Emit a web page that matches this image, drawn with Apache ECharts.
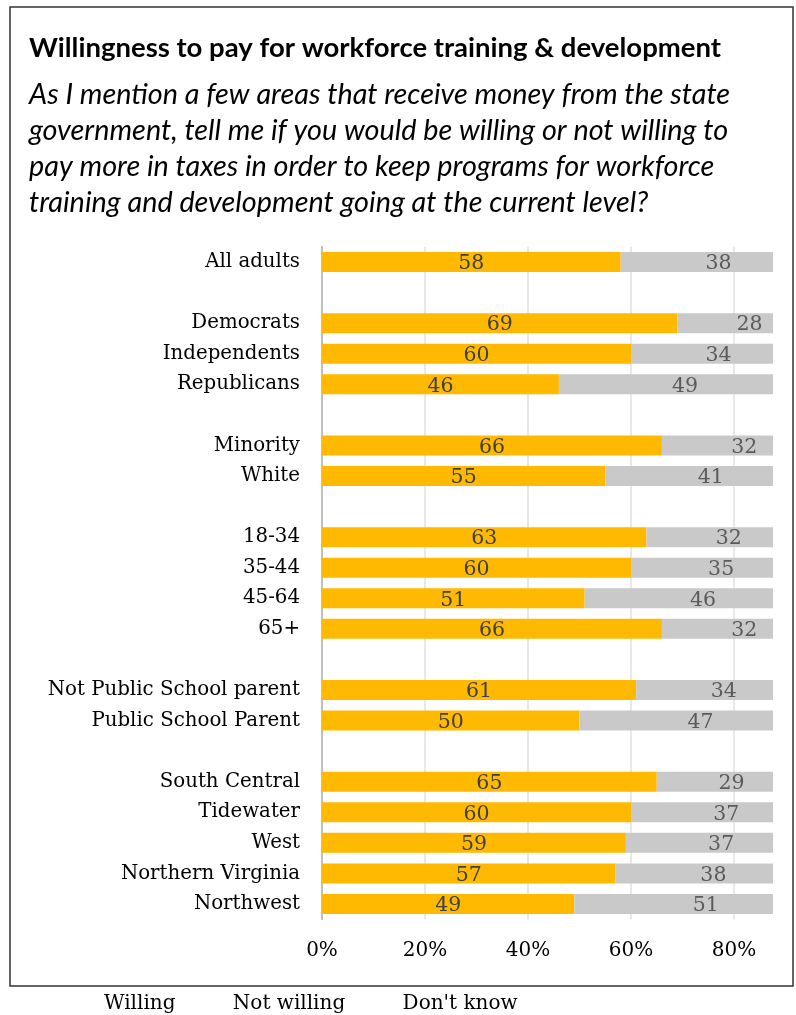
<!DOCTYPE html>
<html><head><meta charset="utf-8">
<script src="https://cdn.jsdelivr.net/npm/echarts@6/dist/echarts.min.js"></script>
<style>html,body{margin:0;padding:0;background:#fff}#c{width:796px;height:1015px}</style>
</head><body><div id="c"></div>
<script>
const titleText = 'Willingness to pay for workforce training & development';
const subtitleText = 'As I mention a few areas that receive money from the state\ngovernment, tell me if you would be willing or not willing to\npay more in taxes in order to keep programs for workforce\ntraining and development going at the current level?';
const categories = ['All adults',' ','Democrats','Independents','Republicans','  ','Minority','White','   ','18-34','35-44','45-64','65+','    ','Not Public School parent','Public School Parent','     ','South Central','Tidewater','West','Northern Virginia','Northwest'];
const willing    = [58,null,69,60,46,null,66,55,null,63,60,51,66,null,61,50,null,65,60,59,57,49];
const notWilling = [38,null,28,34,49,null,32,41,null,32,35,46,32,null,34,47,null,29,37,37,38,51];
const dontKnow   = [];
const seriesNames = ['Willing','Not willing',"Don't know"];
const xTicks = [0,20,40,60,80];

const serif = 'DejaVu Serif';
const notWillingLabelPts = [];
categories.forEach((c,i)=>{
  if (willing[i]!=null && notWilling[i]!=null) notWillingLabelPts.push([willing[i]+notWilling[i]/2, i, notWilling[i]]);
});

const chart = echarts.init(document.getElementById('c'));
chart.setOption({
  animation:false,
  backgroundColor:'#fff',
  graphic:[{type:'rect',shape:{x:10,y:7,width:783,height:979},style:{fill:'none',stroke:'#333',lineWidth:1.5},z:-1}],
  title:[
    {text:titleText,left:24,top:26,textStyle:{fontFamily:'Lato',fontWeight:'bold',fontSize:27.5,lineHeight:34,color:'#000'}},
    {text:subtitleText,left:24,top:72,textStyle:{fontFamily:'Lato',fontStyle:'italic',fontWeight:'normal',fontSize:28.8,lineHeight:36,color:'#000'}}
  ],
  legend:{data:seriesNames,left:94,top:989,itemWidth:0,itemHeight:0,itemGap:52.4,icon:'rect',
    textStyle:{fontFamily:serif,fontSize:20,color:'#000'}},
  grid:{left:322,right:23,top:246.7,bottom:95.7,containLabel:false},
  xAxis:{type:'value',min:0,max:87.57,interval:20,
    axisLine:{show:false},axisTick:{show:false},
    splitLine:{show:true,showMaxLine:false,showMinLine:false,lineStyle:{color:'#e0e0e0',width:1.5}},
    axisLabel:{showMaxLabel:false,margin:21,fontFamily:serif,fontSize:20,color:'#000',
      formatter:v=> xTicks.includes(v)? v+'%' : ''}},
  yAxis:{type:'category',inverse:true,data:categories,
    axisLine:{show:true,lineStyle:{color:'#bfbfbf',width:2}},axisTick:{show:false},
    axisLabel:{margin:22,padding:[4,0,0,0],fontFamily:serif,fontSize:19.8,color:'#000'}},
  series:[
    {name:'Willing',type:'bar',stack:'t',data:willing,barWidth:20,itemStyle:{color:'#ffb900'},
      label:{show:true,position:'inside',offset:[0,2],fontFamily:serif,fontSize:20.5,color:'#404040'}},
    {name:'Not willing',type:'bar',stack:'t',data:notWilling,barWidth:20,itemStyle:{color:'#c9c9c9'}},
    {name:"Don't know",type:'bar',stack:'t',data:dontKnow,barWidth:20,itemStyle:{color:'#7f7f7f'}},
    {name:'nwLabels',type:'scatter',data:notWillingLabelPts,symbolSize:0,z:5,
      label:{show:true,position:'inside',offset:[0,2],formatter:p=>p.data[2],fontFamily:serif,fontSize:20.5,color:'#404040'},
      emphasis:{disabled:true},silent:true}
  ]
});
</script></body></html>
